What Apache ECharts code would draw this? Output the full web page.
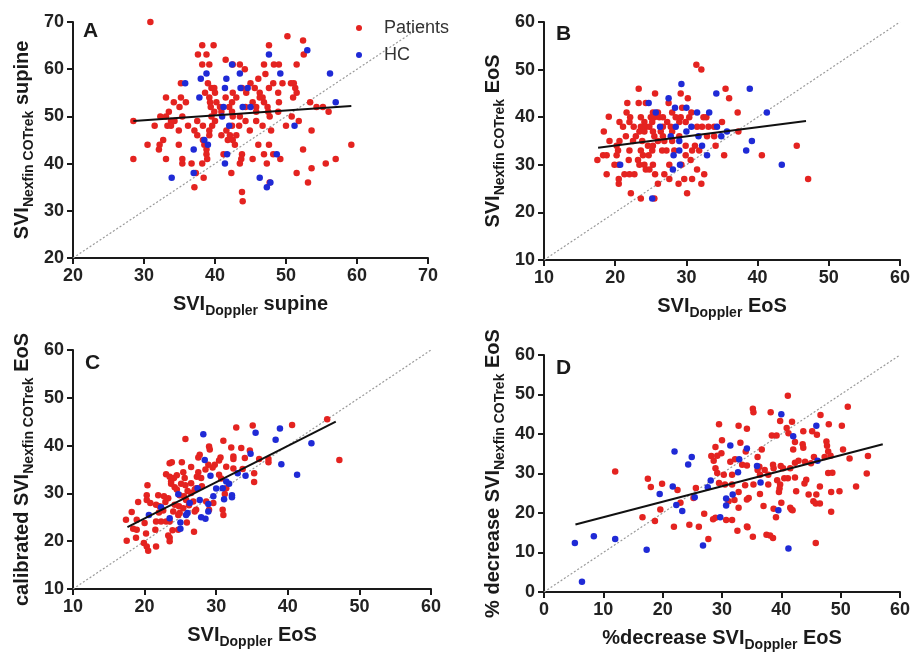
<!DOCTYPE html>
<html><head><meta charset="utf-8">
<script src="https://cdn.jsdelivr.net/npm/echarts@6/dist/echarts.min.js"></script>
<style>html,body{margin:0;padding:0;background:#fff}#c{width:913px;height:653px}</style>
</head><body><div id="c"></div>
<script>
// ---------- data ----------
const panelLetters = ['A','B','C','D'];
const axisRanges = [[20,70,20,70],[10,60,10,60],[10,60,10,60],[0,60,0,60]]; // xmin,xmax,ymin,ymax
const seriesNames = ['Patients','HC'];

const patientsA = [[30.9,70],[50.2,67],[52.4,66.1],[38.2,65.1],[39.8,65.1],[47.6,65.1],[37.6,63.1],[38.8,63.1],[52.5,63.1],[41.5,62],[38.2,61],[39.2,61],[42.5,61],[43.5,61],[46.9,61],[48.3,61],[49,61],[51.5,61],[44.2,60],[47.1,59],[46.1,58],[35.2,57],[39,57],[45,57],[48.2,57],[49.5,57],[50.7,57],[51.1,57],[39.5,56],[39.9,56],[43.8,56],[45.6,56],[47.6,56],[51.3,56],[38.6,55],[40,55],[42.5,55],[44.4,55],[46.3,55],[48.9,55],[51.5,55],[33.1,54],[35.2,54],[39.2,54],[41.5,54],[43,54],[46.3,54],[46.7,54],[51,54],[34.2,53],[35.9,53],[39.3,53],[40.2,53],[42.4,53],[45.3,53],[46.9,53],[49,53],[53.4,53],[35,52],[39.4,52],[40.7,52],[42,52],[44.3,52],[45.8,52],[47.4,52],[54.3,52],[55.2,52],[33.5,51],[39.9,51],[40.9,51],[42.4,51],[45.8,51],[47.5,51],[48.9,51],[56,51],[32.3,50],[33.1,50],[35.4,50],[39.5,50],[42.5,50],[43.5,50],[47.7,50],[50.8,50],[28.5,49],[33.8,49],[34.3,49],[37.5,49],[40,49],[44.3,49],[45.8,49],[51.8,49],[31.5,48],[33.3,48],[33.8,48],[36.2,48],[38.3,48],[39.6,48],[42.4,48],[43.4,48],[46.7,48],[50,48],[34.9,47],[37.1,47],[39.2,47],[41.6,47],[44.9,47],[47.9,47],[53.6,47],[37.5,46],[39.2,46],[40.9,46],[42.1,46],[43,46],[32.7,45],[38.3,45],[41.8,45],[42.5,45],[30.5,44],[32.2,44],[34.9,44],[38.5,44],[42.8,44],[46.1,44],[47.6,44],[59.2,44],[32.1,43],[38.8,43],[52.4,43],[38.8,42],[41.2,42],[43.8,42],[46.9,42],[48.2,42],[28.5,41],[33.1,41],[35.4,41],[38.9,41],[43.7,41],[45.3,41],[49.2,41],[57,41],[35.4,40],[36.7,40],[38.2,40],[43.5,40],[47.3,40],[55.6,40],[53.6,39],[37.3,38],[42.3,38],[51.5,38],[38.4,37],[53.1,36],[47.7,36],[37.1,35],[43.8,34],[43.9,32]];
const hcA = [[53,64],[47.6,63.1],[42.4,61],[38.8,59.1],[38,58],[49.2,59.1],[43.5,59.1],[56.2,59.1],[41.6,58],[35.8,57],[41.4,56],[43.6,56],[44.6,56],[37.8,54],[57,53],[41.2,52],[43.9,52],[45,52],[41,50],[42,48],[51.2,48],[38.5,45],[39,44],[37,43],[41.7,42],[48.7,42],[41.4,40],[37,38],[33.9,37],[46.3,37],[47.8,36],[47.3,35]];
const fitA = [[28.5,49.0],[59.2,52.2]];

const patientsB = [[31.4,51],[32.1,50],[23.3,46],[25.6,45],[29.2,45],[35.5,46],[36,44],[30.2,44],[21.7,43],[23.3,43],[24.3,43],[27.5,43],[19.1,40.1],[21.6,41],[25.3,41],[26,41],[28,41],[29.4,42],[30.7,41],[37.2,41],[22.1,40],[23.6,40],[25,40],[25.5,40],[26.2,40],[26.7,40],[28.5,40],[29.2,40],[30.4,40],[32.4,40],[32.8,40],[20.6,39],[22,39],[24.1,39],[25.2,39],[27.3,39],[29,39],[29.9,39],[35,39],[21.1,38],[22.6,38],[23.6,38],[24.3,38],[24.8,38],[26.7,38],[27.8,38],[31.5,38],[32.2,38],[33.1,38],[33.9,38],[18.4,37],[23.4,37],[24.1,37],[25.3,37],[26.4,37],[28,37],[37.3,37],[21.5,36],[22.9,36],[25.5,36],[26.7,36],[29,36],[32.9,36],[33.9,36],[19.2,35],[20.6,35],[22.5,35],[23.8,35],[26,35],[26.9,35],[28,35],[29.9,34],[31.2,34],[20.2,34],[24.6,34],[25.3,34],[26.6,33],[27.2,33],[34.1,34],[45.5,34],[20.4,33],[22,33],[23.6,33],[25.2,33],[28.3,33],[30.8,33],[31.8,33],[18.3,32],[18.8,32],[20.2,32],[23.9,32],[24.7,32],[29.9,32],[35.3,32],[40.6,32],[17.5,31],[21.9,31],[23.2,31],[30.6,31],[19.9,30],[20.5,30],[23.4,30],[24.1,30],[25.3,30],[27.6,30],[29.3,30],[24.3,29],[24.8,29],[31.5,29],[18.8,28],[21.3,28],[22,28],[22.7,28],[25.6,28],[26.9,28],[32.5,28],[20.5,27],[27.6,27],[29.7,27],[30.8,27],[47.1,27],[20.5,26],[26,26],[28.9,26],[32.1,26],[22.2,24],[30.1,24],[23.6,22.9],[25.5,22.9]];
const hcB = [[29.3,47],[38.9,46],[34.2,45],[27.5,44],[24.7,43],[28.4,42],[30,42],[31.5,41],[33.2,41],[41.3,41],[25.7,41],[26.3,38],[28.5,38],[30.7,38],[34.3,38],[30,37],[35.7,37],[27.8,36],[31.7,36],[34.9,36],[29,35],[39.2,35],[32.2,34],[29,33],[38.4,33],[28.2,32],[32.9,32],[20.7,30],[29.1,30],[43.4,30],[28.1,29],[25.2,22.9]];
const fitB = [[17.6,33.6],[46.8,39.2]];

const patientsC = [[45.5,45.5],[40.6,44.3],[32.8,43.8],[35.1,44.2],[25.7,41.4],[31,41],[29,39.8],[29.1,39.2],[32.1,39.6],[33.5,39.5],[34.7,39],[27.7,38.1],[27.5,37.5],[30.6,37.5],[30.4,36.9],[32.4,37.7],[32.4,37.2],[34,37.4],[36,37.2],[37.3,37.2],[37.3,36.5],[23.5,36.3],[23.8,36.5],[25.2,36.5],[29.8,36],[29.5,35.4],[31.4,35.6],[28.9,36],[26.5,35.5],[32.4,35.2],[33.7,35.1],[23,34],[35.3,34.2],[35.3,32.4],[23.5,33.5],[24.1,33.2],[23.7,32.5],[25.4,34.4],[25.6,33.2],[27.5,34.4],[27.3,33.5],[27.9,33.2],[30.4,33.9],[30.7,33.1],[26.5,32.1],[23.7,32],[25.1,32],[25.7,31.7],[20.4,31.7],[24.2,31.3],[24.5,30.8],[27,30.8],[26.5,30.1],[27.2,31.1],[31.4,31.1],[31.2,29.9],[20.3,29.6],[20.3,28.6],[21.9,29.6],[22.7,29.4],[23.3,29],[24.9,29.6],[25.5,29.4],[19.1,28.2],[20.8,28],[21.6,27.6],[22.1,27.3],[22.9,28.2],[24.2,27.6],[24.8,27.3],[25.4,26.9],[25.8,28.6],[26.8,28.3],[27.2,26.6],[27,26.2],[28.6,28.3],[29.6,28],[29,26.6],[18.2,26.1],[22.6,26.4],[24,26.2],[24.9,25.9],[24.7,25.5],[25.9,23.9],[30.9,26.6],[31,25.5],[17.4,24.5],[18.9,24.5],[21.6,24.1],[22.3,24.1],[23,24.1],[20,23.8],[23.5,24.1],[18.4,22.6],[18.9,22.4],[21.5,22.4],[23.9,22.3],[24.7,22.4],[26.9,22],[20.2,21.6],[18.8,20.7],[23.3,21.2],[23.5,20.7],[23.5,20],[19.9,19.6],[20.3,18.9],[20.5,18],[21.6,18.9],[17.5,20.1],[47.2,37],[26,30.5],[28,31.5],[24.5,33.8],[22,26],[26.2,27.5],[28.5,35]];
const hcC = [[28.2,42.4],[35.5,42.7],[38.9,43.6],[38.3,41.2],[43.3,40.5],[34.8,38.3],[28.4,37],[39.1,36.1],[41.3,33.9],[34.1,33.7],[33,34.2],[29.2,33.7],[31.4,32.5],[31.8,32],[30,31],[30.9,31.1],[27.4,31.1],[24.7,29.8],[29.6,29.4],[32.2,29.6],[32.2,29.2],[31.1,28.8],[27.7,28.6],[28.9,27.8],[26.3,28],[22.3,27.1],[28.9,26.2],[26,25.9],[25.8,25.5],[20.6,25.5],[23.5,24.8],[27.9,25],[28.5,24.7],[25,23.9],[25,22.6]];
const fitC = [[17.6,22.95],[46.7,45.0]];

const patientsD = [[41.1,49.7],[35.2,46.4],[35.3,45.5],[38.2,45.5],[51.2,46.9],[46.6,44.8],[39.8,43.3],[41.8,43.1],[29.5,42.5],[32.8,42.1],[48,42.5],[50.2,42.1],[34.2,41.3],[40.9,41.5],[43.7,40.7],[45.2,40.7],[38.4,39.6],[39.2,39.6],[41.2,40.2],[46,39.8],[30,38.4],[33.1,37.8],[42.3,38],[43.6,37.4],[43.7,36.5],[47.6,38.1],[47.7,37],[28.9,36.7],[36.7,36.1],[42,36.1],[50.4,36.1],[34,35.6],[29.9,35.1],[29.2,34.5],[28.2,34.4],[28.6,33.2],[36,34.2],[47.9,35.6],[48.3,34.5],[47.3,34.2],[45.5,34.2],[51.5,33.8],[54.6,34.4],[31.4,33],[32.2,33.6],[33.4,32.2],[34.2,32],[38.6,32.2],[39.9,31.9],[42.3,32.7],[42.9,33.2],[44,33],[45,32.6],[36.3,31.7],[36,30.9],[28.9,31.3],[37.2,30.9],[38.7,31.3],[40.3,31.3],[41.5,31.3],[30.3,29.7],[31.7,29.7],[36.4,29.7],[37.8,29.7],[47.9,30.1],[48.6,30.2],[29.2,30.1],[54.4,30],[40.5,28.8],[41.1,28.8],[42.3,29],[17.5,28.7],[39.3,28.3],[44.2,28.4],[43.9,27.5],[29.5,27.6],[30.5,27.2],[31.7,27.2],[19.9,27.4],[18,26.6],[22.5,25.8],[25.6,26.3],[33.9,27],[35.3,27.2],[37.8,27.2],[39.8,27.2],[39.7,26.2],[39.6,25.3],[52.6,26.7],[46.5,26.7],[42.5,25.5],[49.8,25.5],[48.4,25.3],[36.4,24.8],[32.8,25.3],[44.6,24.7],[45.9,24.7],[25.2,23.8],[23,22.6],[31.1,23],[32.1,23.3],[32.8,21.3],[34.5,23.8],[34.2,23.4],[37,21.8],[38.7,21.1],[40,22.6],[45.4,23],[45.8,22.4],[46.5,22.4],[19.6,20.9],[16.6,18.9],[18.7,18],[27,19.8],[21.9,16.5],[24.5,17],[26.1,16.5],[28.5,18.4],[28.9,18.8],[30.7,18.2],[31.7,18.2],[32.6,15.5],[34.2,16.6],[34.3,16.4],[35.2,14],[37.5,14.5],[38.1,14.3],[38.6,13.7],[39.1,18.9],[41.5,21.3],[41.7,20.9],[41.9,20.7],[48.4,20.3],[27.7,13.4],[45.8,12.4],[12,30.5]];
const hcD = [[40,45],[45.9,42.1],[42,39.4],[31.4,37.1],[22,35.6],[34.2,36.3],[32.9,33.6],[24.9,34.2],[24.3,32.3],[35.9,31.9],[46.1,33.2],[32.7,30.3],[28.1,28.2],[36.5,27.7],[27.6,26.5],[21.7,26.7],[19.5,24.8],[25.4,24],[31.8,24.7],[30.7,23.7],[30.7,21.9],[22.3,22],[23.3,20.5],[39.5,20.7],[29.7,18.9],[8.4,14.1],[12,13.4],[5.2,12.4],[17.3,10.7],[26.8,11.8],[41.2,11],[6.4,2.6]];
const fitD = [[5.3,17.1],[57.1,37.4]];

const xNames = ['{b|SVI}{s|Doppler}{b| supine}','{b|SVI}{s|Doppler}{b| EoS}','{b|SVI}{s|Doppler}{b| EoS}','{b|%decrease SVI}{s|Doppler}{b| EoS}'];
const yNames = ['{b|SVI}{s|Nexfin COTrek}{b| supine}','{b|SVI}{s|Nexfin COTrek}{b| EoS}','{b|calibrated SVI}{s|Nexfin COTrek}{b| EoS}','{b|% decrease SVI}{s|Nexfin COTrek}{b| EoS}'];

// ---------- layout / style ----------
const grids = [
  {left:73, top:22, width:355, height:236},
  {left:544, top:22, width:358, height:238},
  {left:73, top:350, width:358, height:239},
  {left:544, top:355, width:358, height:241}
];
const RED = '#e42320', BLUE = '#1f2ad6', INK = '#1a1a1a';
const FONT = 'Liberation Sans, Arial, sans-serif';
const rich = {
  b:{fontSize:20, fontWeight:'bold', color:INK, fontFamily:FONT, lineHeight:20, verticalAlign:'top'},
  s:{fontSize:14, fontWeight:'bold', color:INK, fontFamily:FONT, lineHeight:34}
};
function axis(i, isX){
  const r = axisRanges[i];
  return {
    type:'value', gridIndex:i, min: isX?r[0]:r[2], max: isX?r[1]:r[3], interval:10,
    name: isX? xNames[i] : yNames[i], nameLocation:'middle', nameGap: isX?36:27,
    nameTextStyle:{rich},
    axisLine:{show:true, onZero:false, lineStyle:{color:INK, width:2}},
    axisTick:{show:true, length:6, lineStyle:{color:INK, width:2}},
    axisLabel:{margin:9, fontSize:18, fontWeight:'bold', color:'#222', fontFamily:FONT, showMinLabel:true, showMaxLabel:true},
    splitLine:{show:false}
  };
}
const pts = [[patientsA,hcA,fitA],[patientsB,hcB,fitB],[patientsC,hcC,fitC],[patientsD,hcD,fitD]];
const series = [];
pts.forEach((p,i)=>{
  const r = axisRanges[i];
  series.push({type:'line', xAxisIndex:i, yAxisIndex:i, data:[[r[0],r[2]],[r[1],r[3]]], symbol:'none', silent:true,
    lineStyle:{color:'#9a9a9a', width:1.2, type:[2,2]}, z:1});
  series.push({type:'scatter', name:seriesNames[0], xAxisIndex:i, yAxisIndex:i, data:p[0], symbolSize:6.5, itemStyle:{color:RED, opacity:1}, z:2});
  series.push({type:'scatter', name:seriesNames[1], xAxisIndex:i, yAxisIndex:i, data:p[1], symbolSize:6.5, itemStyle:{color:BLUE, opacity:1}, z:3});
  series.push({type:'line', xAxisIndex:i, yAxisIndex:i, data:p[2], symbol:'none', silent:true,
    lineStyle:{color:'#111', width:2}, z:4});
});
const letterPos = [[83,21],[556,24],[85,353],[556,358]];
const chart = echarts.init(document.getElementById('c'), null, {renderer:'canvas'});
chart.setOption({
  animation:false,
  backgroundColor:'#fff',
  grid: grids,
  xAxis: [0,1,2,3].map(i=>axis(i,true)),
  yAxis: [0,1,2,3].map(i=>axis(i,false)),
  legend:{data:seriesNames, orient:'vertical', left:351, top:14, itemWidth:6, itemHeight:6, icon:'circle', itemGap:9,
    textStyle:{fontSize:18, color:'#333', fontFamily:FONT, padding:[0,0,0,17]}},
  graphic: panelLetters.map((t,i)=>({type:'text', left:letterPos[i][0], top:letterPos[i][1],
    style:{text:t, font:'bold 21px '+FONT, fill:INK}})),
  series
});
</script></body></html>
